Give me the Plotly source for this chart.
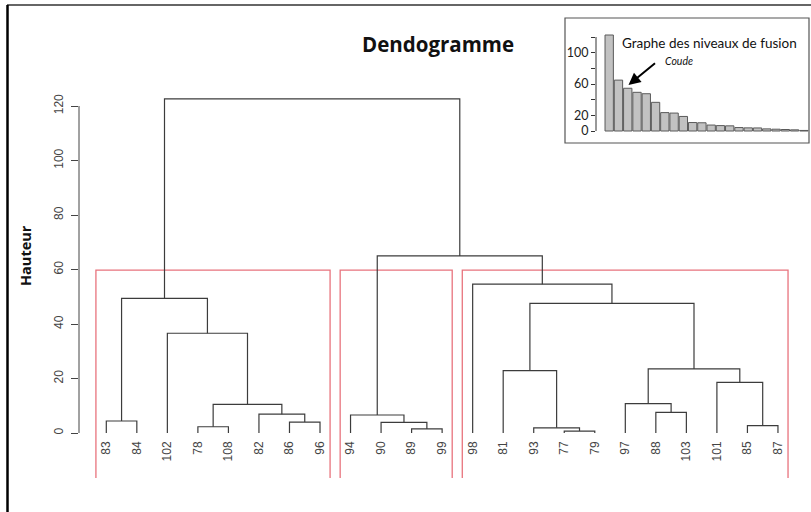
import plotly.graph_objects as go

# ---------------- data ----------------
leaf_labels = ['83', '84', '102', '78', '108', '82', '86', '96',
               '94', '90', '89', '99',
               '98', '81', '93', '77', '79', '97', '88', '103', '101', '85', '87']
# R-style merge matrix: negative = leaf position (1-based), positive = earlier merge row
merge_left = [-16, -11, -15, -4, -22, -10, -7, -1, -9, -6, -19, 4, -18, -21, -14, 13, -3, 15, 8, -13, 9, 19]
merge_right = [-17, -12, 1, -5, -23, 2, -8, -2, 6, 7, -20, 10, 11, 5, 3, 14, 12, 16, 17, 18, 20, 21]
merge_height = [0.7, 1.5, 1.9, 2.3, 2.7, 3.9, 4.0, 4.4, 6.6, 6.9, 7.6, 10.5, 10.8, 18.6, 22.9,
                23.5, 36.6, 47.6, 49.4, 54.6, 65.0, 122.6]
n_clusters = 3
y_ticks = [0, 20, 40, 60, 80, 100, 120]
inset_ticks = [0, 20, 40, 60, 80, 100, 120]
inset_ticktext = ['0', '20', '', '60', '', '100', '']

# ---------------- geometry helpers ----------------
W, H = 811, 512
ML, MR, MT, MB = 79, 0, 5, 34
PW, PH = W - ML - MR, H - MT - MB


def px_x(p):
    return (p - ML) / PW


def px_y(p):
    return (H - MB - p) / PH


leaf0_px, pitch = 106.3, 30.53
x_range = [1 - (leaf0_px - ML) / pitch, 1 + (W - MR - leaf0_px) / pitch]
zero_px, scale = 433.0, 2.725
y_range = [-(H - MB - zero_px) / scale, (zero_px - MT) / scale]

# ---------------- dendrogram geometry ----------------
node_x, node_h = {}, {}


def child(c):
    if c < 0:
        return float(-c), 0.0
    return node_x[c], node_h[c]


lx, ly = [], []
for i, (a, b, h) in enumerate(zip(merge_left, merge_right, merge_height), start=1):
    xa, ha = child(a)
    xb, hb = child(b)
    node_x[i] = (xa + xb) / 2
    node_h[i] = h
    lx += [xa, xa, xb, xb, None]
    ly += [ha, h, h, hb, None]

# clusters for rect.hclust
sorted_h = sorted(merge_height)
cut = (sorted_h[-(n_clusters - 1)] + sorted_h[-n_clusters]) / 2


def leaves_of(c):
    if c < 0:
        return [-c]
    return leaves_of(merge_left[c - 1]) + leaves_of(merge_right[c - 1])


def clusters(c):
    if c > 0 and merge_height[c - 1] > cut:
        return clusters(merge_left[c - 1]) + clusters(merge_right[c - 1])
    return [leaves_of(c)]


root = len(merge_height)
groups = sorted(clusters(root), key=min)

fig = go.Figure()

for g in groups:
    x0, x1 = min(g) - 0.34, max(g) + 0.33
    fig.add_trace(go.Scatter(
        x=[x0, x0, x1, x1], y=[y_range[0], cut, cut, y_range[0]],
        mode='lines', line=dict(color='#E8737D', width=1.3),
        hoverinfo='skip', showlegend=False, cliponaxis=True))

fig.add_trace(go.Scatter(x=lx, y=ly, mode='lines',
                         line=dict(color='#3c3c3c', width=1.2),
                         hoverinfo='skip', showlegend=False))

# ---------------- inset: fusion levels ----------------
levels = sorted(merge_height, reverse=True)
fig.add_trace(go.Bar(x=list(range(len(levels))), y=levels, xaxis='x2', yaxis='y2',
                     marker=dict(color='#c2c2c2', line=dict(color='#5a5a5a', width=1)),
                     showlegend=False, hoverinfo='skip'))

bar0_px, bar_pitch = 609.2, 9.27
in_zero_px, in_scale = 131.0, 0.783
ax2_px = 596

fig.update_layout(
    width=W, height=H,
    margin=dict(l=ML, r=MR, t=MT, b=MB),
    paper_bgcolor='white', plot_bgcolor='white',
    bargap=0.1,
    xaxis=dict(range=x_range, showgrid=False, zeroline=False, showline=False,
               tickvals=list(range(1, len(leaf_labels) + 1)), ticktext=leaf_labels,
               tickangle=-90, ticks='', anchor='free', position=px_y(438),
               tickfont=dict(family='Liberation Sans', size=12, color='#444')),
    yaxis=dict(range=y_range, showgrid=False, zeroline=False, showline=False,
               tickvals=y_ticks, ticks='outside', ticklen=7, tickcolor='#444',
               tickwidth=1, tickangle=-90, ticklabelstandoff=3,
               tickfont=dict(family='Liberation Sans', size=12, color='#444')),
    xaxis2=dict(domain=[px_x(ax2_px), px_x(810)],
                range=[-(bar0_px - ax2_px) / bar_pitch, (810 - bar0_px) / bar_pitch],
                anchor='y2', showgrid=False, zeroline=False, showline=False,
                showticklabels=False, ticks=''),
    yaxis2=dict(domain=[px_y(140), px_y(20)],
                range=[-(140 - in_zero_px) / in_scale, (in_zero_px - 20) / in_scale],
                anchor='x2', showgrid=False, zeroline=False, showline=False,
                tickvals=inset_ticks, ticktext=inset_ticktext,
                ticks='outside', ticklen=4, tickcolor='#333',
                tickfont=dict(family='Lato', size=12.5, color='#222')),
    shapes=[
        # main y axis line (0..120)
        dict(type='line', xref='paper', yref='y', x0=0, x1=0, y0=y_ticks[0], y1=y_ticks[-1],
             line=dict(color='#444', width=1)),
        # inset axis line
        dict(type='line', xref='paper', yref='y2', x0=px_x(ax2_px), x1=px_x(ax2_px),
             y0=inset_ticks[0], y1=inset_ticks[-1], line=dict(color='#333', width=1)),
        # inset frame
        dict(type='rect', xref='paper', yref='paper', x0=px_x(565), x1=px_x(809),
             y0=px_y(143), y1=px_y(18), line=dict(color='#555', width=1.2)),
        # outer frame (top and left)
        dict(type='line', xref='paper', yref='paper', x0=px_x(7), x1=px_x(811),
             y0=px_y(5), y1=px_y(5), line=dict(color='#333', width=1.5)),
        dict(type='line', xref='paper', yref='paper', x0=px_x(7.5), x1=px_x(7.5),
             y0=px_y(5), y1=px_y(512), line=dict(color='#000', width=2.5)),
    ],
    annotations=[
        dict(text='<b>Dendogramme</b>', xref='paper', yref='paper', x=px_x(438), y=px_y(44),
             showarrow=False, font=dict(family='Open Sans', size=20.5, color='#111'),
             xanchor='center', yanchor='middle'),
        dict(text='<b>Hauteur</b>', xref='paper', yref='paper', x=px_x(25), y=px_y(256),
             showarrow=False, textangle=-90, font=dict(family='Open Sans', size=14.5, color='#111'),
             xanchor='center', yanchor='middle'),
        dict(text='Graphe des niveaux de fusion', xref='paper', yref='paper',
             x=px_x(709), y=px_y(43), showarrow=False,
             font=dict(family='Lato', size=13.5, color='#111'), xanchor='center', yanchor='middle'),
        dict(text='<i>Coude</i>', xref='paper', yref='paper', x=px_x(679), y=px_y(61),
             showarrow=False, font=dict(family='Lato', size=10.5, color='#111'),
             xanchor='center', yanchor='middle'),
        dict(text='', xref='paper', yref='paper', x=px_x(628.5), y=px_y(85),
             ax=28, ay=-23, showarrow=True, arrowhead=2, arrowsize=1.2, arrowwidth=2,
             arrowcolor='#000'),
    ],
)

fig.write_html('out.html', config={'displayModeBar': False},
               post_script="document.body.style.margin='0';")
